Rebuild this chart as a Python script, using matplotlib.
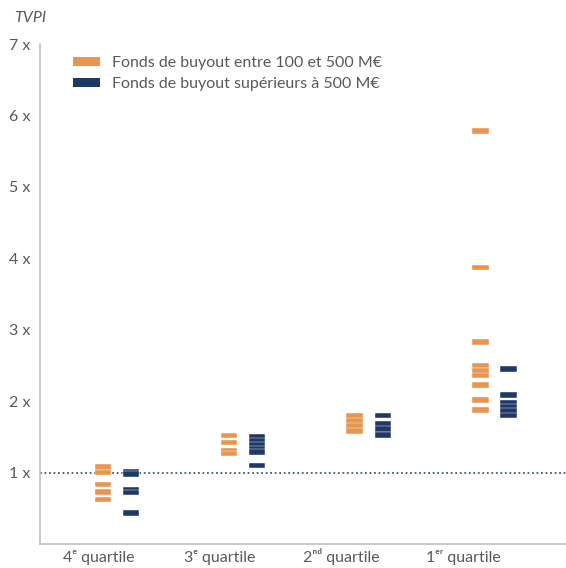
import numpy as np
import matplotlib
matplotlib.use("Agg")
import matplotlib.pyplot as plt
from matplotlib.patches import Patch

plt.rcParams['font.family'] = ['Lato', 'DejaVu Sans']

# DATA

quartiles = ['4ᵉ quartile', '3ᵉ quartile', '2ⁿᵈ quartile', '1ᵉʳ quartile']

# TVPI of each fund, by quartile
mid_funds = [
    [1.08, 1.00, 0.83, 0.73, 0.62],
    [1.52, 1.42, 1.31, 1.27],
    [1.79, 1.72, 1.65, 1.58],
    [5.78, 3.87, 2.83, 2.50, 2.42, 2.36, 2.23, 2.02, 1.88],
]
large_funds = [
    [1.01, 0.98, 0.76, 0.72, 0.43],
    [1.50, 1.44, 1.39, 1.34, 1.29, 1.10],
    [1.80, 1.68, 1.61, 1.53],
    [2.45, 2.09, 1.98, 1.92, 1.86, 1.80],
]

label_mid = 'Fonds de buyout entre 100 et 500 M€'
label_large = 'Fonds de buyout supérieurs à 500 M€'

yticks = [1, 2, 3, 4, 5, 6, 7]

orange = '#E8964F'
navy = '#1F3864'
grey = '#595959'

# PLOT

fig = plt.figure(figsize=(5.66, 5.68), dpi=100)
ax = fig.add_axes([0.0707, 0.0423, 0.9293, 0.880])

bar_h = 0.078
bar_w = 0.13
offset = 0.112

for i, vals in enumerate(mid_funds):
    v = np.asarray(vals)
    ax.bar(np.full(len(v), i - offset), bar_h, bottom=v - bar_h / 2, width=bar_w,
           color=orange, edgecolor='white', linewidth=0.3, zorder=3)
for i, vals in enumerate(large_funds):
    v = np.asarray(vals)
    ax.bar(np.full(len(v), i + offset), bar_h, bottom=v - bar_h / 2, width=bar_w,
           color=navy, edgecolor='white', linewidth=0.3, zorder=3)

# reference line at 1x
ax.axhline(1, color='#3E5F6E', linestyle=(0, (1, 1.5)), linewidth=1.3, zorder=2)

ax.set_xlim(-0.612, 3.569)
ax.set_ylim(0, 7)

ax.set_yticks(yticks)
ax.set_yticklabels(['%d x' % t for t in yticks])
ax.set_xticks([-0.143, 0.819, 1.78, 2.75])
ax.set_xticklabels(quartiles, va='baseline')
ax.tick_params(length=0, labelsize=11.5, labelcolor=grey)
ax.tick_params(axis='y', pad=7)
ax.tick_params(axis='x', pad=13)

for s in ['top', 'right']:
    ax.spines[s].set_visible(False)
for s in ['left', 'bottom']:
    ax.spines[s].set_color('#BFBFBF')
    ax.spines[s].set_linewidth(1.2)

fig.text(14 / 566, 1 - 18 / 568, 'TVPI', style='italic', fontsize=11.5,
         color=grey, va='center', ha='left')

handles = [Patch(facecolor=orange, edgecolor='none'),
           Patch(facecolor=navy, edgecolor='none')]
ax.legend(handles, [label_mid, label_large], loc='upper left',
          bbox_to_anchor=(0.035, 1.005), frameon=False, fontsize=11.5,
          handlelength=1.7, handleheight=0.45, handletextpad=0.75,
          labelspacing=0.45, labelcolor=grey)

fig.savefig('out.png', dpi=100)
